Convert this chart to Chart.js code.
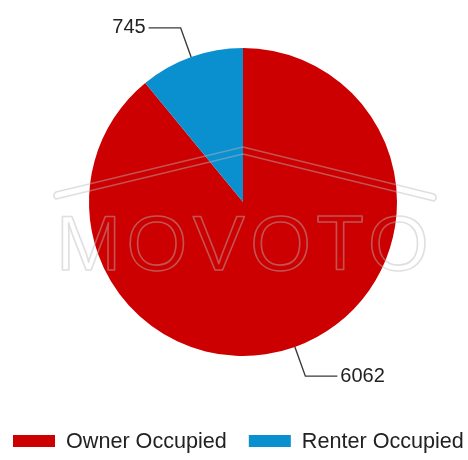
<!DOCTYPE html>
<html>
<head>
<meta charset="utf-8">
<script src="https://cdn.jsdelivr.net/npm/chart.js@4/dist/chart.umd.min.js"></script>
<style>
  html, body { margin: 0; padding: 0; background: #fff; }
  #wrap { width: 468px; height: 460px; }
</style>
</head>
<body>
<div id="wrap"><canvas id="c" width="468" height="460"></canvas></div>
<script>
const categories = ['Owner Occupied', 'Renter Occupied'];
const values = [6062, 745];
const colors = ['#CC0000', '#0A8FCF'];

const FONT = '"Liberation Sans", Arial, sans-serif';

const watermark = {
  id: 'watermark',
  afterDatasetsDraw(chart) {
    const ctx = chart.ctx;
    ctx.save();
    ctx.strokeStyle = 'rgba(185,185,185,0.45)';
    ctx.lineWidth = 1.6;
    ctx.lineJoin = 'round';
    // roof band
    ctx.beginPath();
    ctx.moveTo(56, 192); ctx.lineTo(243, 147); ctx.lineTo(434, 194);
    ctx.arcTo(438, 198, 434, 201, 3.5);
    ctx.lineTo(434, 201); ctx.lineTo(243, 154); ctx.lineTo(56, 199);
    ctx.arcTo(52, 196, 56, 192, 3.5);
    ctx.closePath();
    ctx.stroke();
    // letters
    ctx.font = '78px ' + FONT;
    ctx.textBaseline = 'alphabetic';
    ctx.textAlign = 'left';
    try { ctx.letterSpacing = '5.5px'; } catch (e) {}
    ctx.lineWidth = 1.6;
    ctx.strokeText('MOVOTO', 56, 270);
    ctx.restore();
  }
};

const leaderLabels = {
  id: 'leaderLabels',
  afterDatasetsDraw(chart) {
    const ctx = chart.ctx;
    const meta = chart.getDatasetMeta(0);
    const ds = chart.data.datasets[0];
    ctx.save();
    ctx.strokeStyle = '#3a3a3a';
    ctx.lineWidth = 1.4;
    ctx.fillStyle = '#222';
    ctx.font = '20px ' + FONT;
    ctx.textBaseline = 'middle';
    meta.data.forEach((arc, i) => {
      const p = arc.getProps(['x', 'y', 'startAngle', 'endAngle', 'outerRadius'], true);
      const mid = (p.startAngle + p.endAngle) / 2;
      const x0 = p.x + Math.cos(mid) * p.outerRadius;
      const y0 = p.y + Math.sin(mid) * p.outerRadius;
      const r1 = p.outerRadius + 31;
      const x1 = p.x + Math.cos(mid) * r1;
      const y1 = p.y + Math.sin(mid) * r1;
      const dir = Math.cos(mid) >= 0 ? 1 : -1;
      const x2 = x1 + dir * 32;
      ctx.beginPath();
      ctx.moveTo(x0, y0); ctx.lineTo(x1, y1); ctx.lineTo(x2, y1);
      ctx.stroke();
      ctx.textAlign = dir > 0 ? 'left' : 'right';
      ctx.fillText(String(ds.data[i]), x2 + dir * 3, y1);
    });
    ctx.restore();
  }
};

const customLegend = {
  id: 'customLegend',
  afterDraw(chart) {
    const ctx = chart.ctx;
    const ds = chart.data.datasets[0];
    ctx.save();
    ctx.font = '21.6px ' + FONT;
    ctx.textBaseline = 'middle';
    ctx.textAlign = 'left';
    let x = 13;
    const cy = 441;
    chart.data.labels.forEach((lab, i) => {
      ctx.fillStyle = ds.backgroundColor[i];
      ctx.fillRect(x, cy - 6, 42, 12);
      ctx.fillStyle = '#222';
      ctx.fillText(lab, x + 53, cy + 1);
      x += 53 + ctx.measureText(lab).width + 22;
    });
    ctx.restore();
  }
};

new Chart(document.getElementById('c'), {
  type: 'pie',
  data: {
    labels: categories,
    datasets: [{
      data: values,
      backgroundColor: colors,
      borderWidth: 0
    }]
  },
  options: {
    responsive: false,
    animation: false,
    layout: { padding: { left: 89, right: 71, top: 48, bottom: 104 } },
    plugins: {
      legend: { display: false },
      tooltip: { enabled: false }
    }
  },
  plugins: [watermark, leaderLabels, customLegend]
});
</script>
</body>
</html>
